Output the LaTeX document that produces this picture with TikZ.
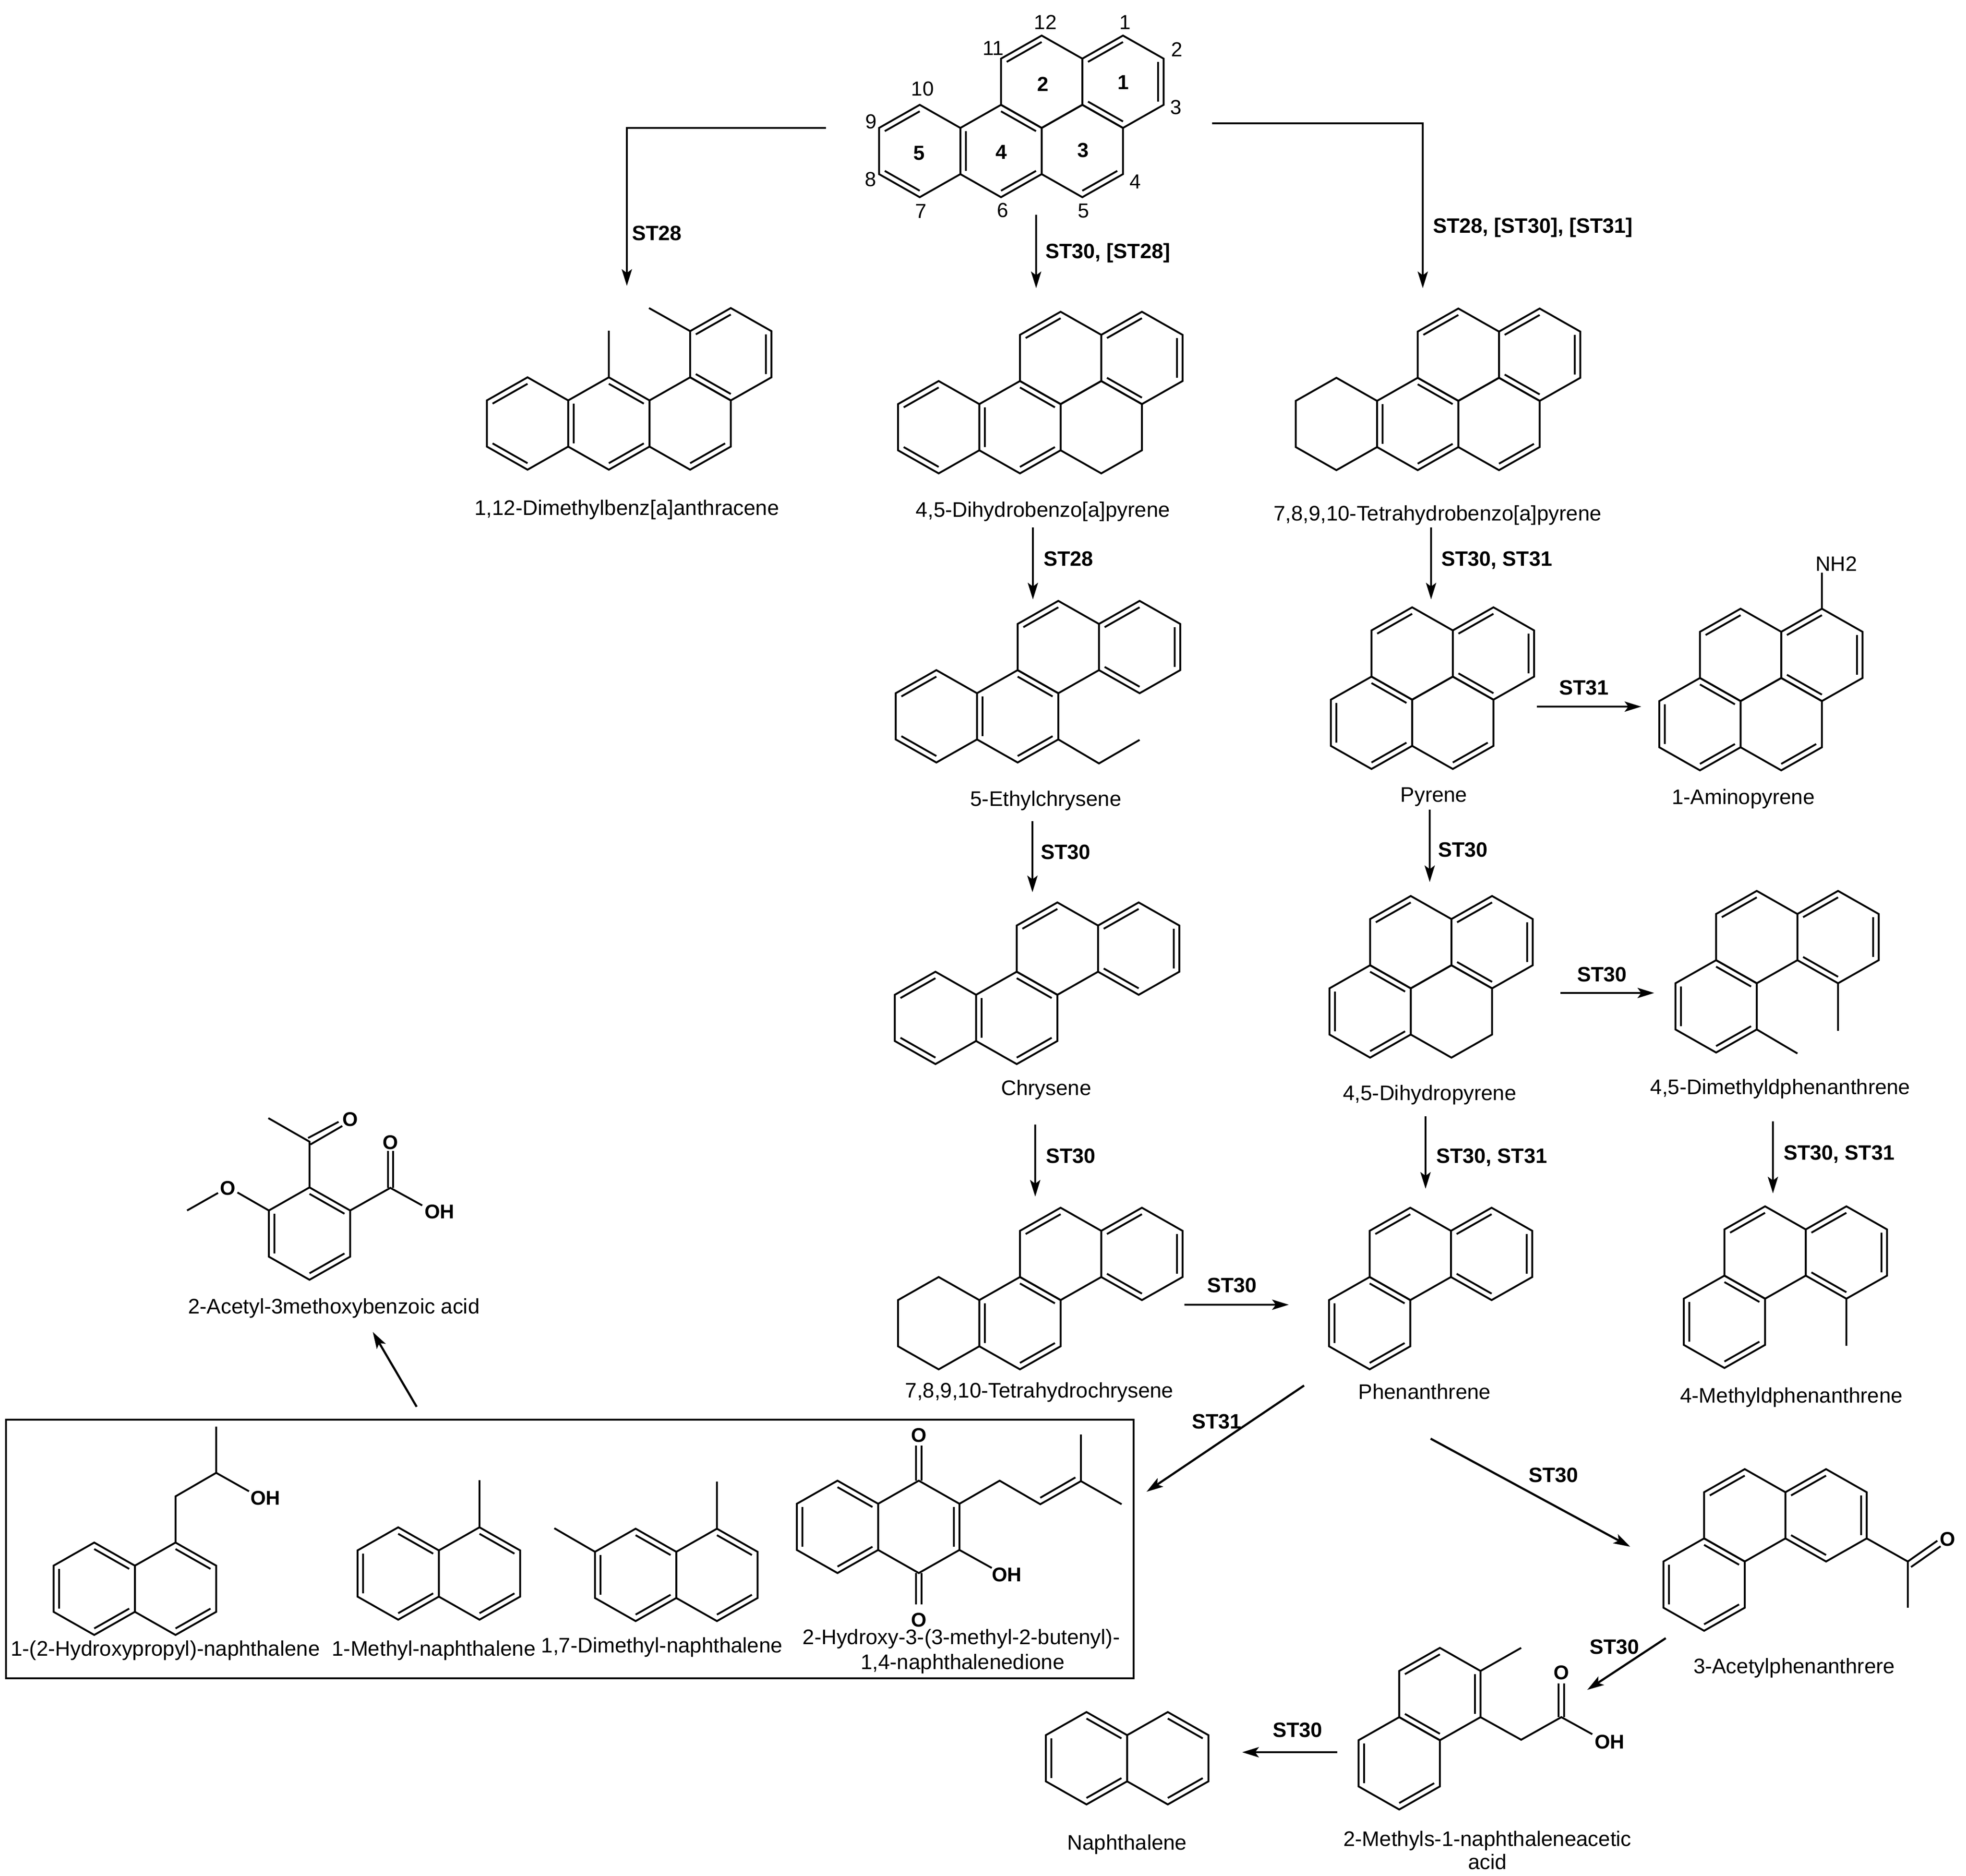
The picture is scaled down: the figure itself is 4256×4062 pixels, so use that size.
\documentclass[tikz,border=0pt]{standalone}
\usepackage{fontspec}
\setmainfont{Liberation Sans}
\usetikzlibrary{arrows.meta}
\tikzset{
  bond/.style={line width=4pt,line join=miter,line cap=butt,black},
  conn/.style={line width=4.6pt,black,-{Stealth[length=36pt,width=22pt,inset=8pt]}},
  namelbl/.style={anchor=base,inner sep=0pt,font=\fontsize{45.6}{54}\selectfont},
  steplbl/.style={anchor=base west,inner sep=0pt,font=\fontsize{45}{52}\selectfont\bfseries},
  atomlbl/.style={inner sep=0pt,font=\fontsize{43}{50}\selectfont\bfseries},
  atombase/.style={anchor=base west,inner sep=0pt,font=\fontsize{43}{50}\selectfont\bfseries},
  numlbl/.style={inner sep=0pt,font=\fontsize{44}{50}\selectfont},
  numbold/.style={inner sep=0pt,font=\fontsize{44}{50}\selectfont\bfseries}
}
\newcommand\hx[3]{%
  \draw[bond] (#1,#2-100)--(#1+88,#2-50)--(#1+88,#2+50)--(#1,#2+100)--(#1-88,#2+50)--(#1-88,#2-50)--cycle;
  \foreach \e in {#3}{%
    \ifcase\e\relax
    \or\draw[bond] (#1,#2-86)--(#1+75.7,#2-43);
    \or\draw[bond] (#1+75.7,#2-43)--(#1+75.7,#2+43);
    \or\draw[bond] (#1+75.7,#2+43)--(#1,#2+86);
    \or\draw[bond] (#1,#2+86)--(#1-75.7,#2+43);
    \or\draw[bond] (#1-75.7,#2+43)--(#1-75.7,#2-43);
    \or\draw[bond] (#1-75.7,#2-43)--(#1,#2-86);
    \fi}%
}
\begin{document}
\begin{tikzpicture}[x=1pt,y=-1pt]
\useasboundingbox (0,0) rectangle (4256,4062);
\fill[white] (0,0) rectangle (4256,4062);

% ---- benzo[a]pyrene (top)
\hx{2431}{177}{2,4,6}\hx{2255}{177}{6}\hx{2343}{327}{3}\hx{2167}{327}{1,3,5}\hx{1991}{327}{4,6}
\node[numlbl] (n12) at (2263,48) {12};
\node[numlbl] (n1) at (2436,48) {1};
\node[numlbl] (n2) at (2548,107) {2};
\node[numlbl] (n3) at (2546,232) {3};
\node[numlbl] (n4) at (2458,393) {4};
\node[numlbl] (n5) at (2346,457) {5};
\node[numlbl] (n6) at (2171,455) {6};
\node[numlbl] (n7) at (1994,457) {7};
\node[numlbl] (n8) at (1885,388) {8};
\node[numlbl] (n9) at (1886,263) {9};
\node[numlbl] (n10) at (1997,192) {10};
\node[numlbl] (n11) at (2150,104) {11};
\node[numbold] (r1) at (2432,178) {1};
\node[numbold] (r2) at (2258,182) {2};
\node[numbold] (r3) at (2345,325) {3};
\node[numbold] (r4) at (2168,329) {4};
\node[numbold] (r5) at (1990,332) {5};

% ---- 1,12-dimethylbenz[a]anthracene
\hx{1582}{767}{2,4,6}\hx{1494}{917}{3}\hx{1318}{917}{1,3,5}\hx{1142}{917}{4,6}
\draw[bond] (1494,717)--(1405,667);
\draw[bond] (1318,817)--(1318,716);
\node[namelbl] (lA) at (1357,1115) {1,12-Dimethylbenz[a]anthracene};

% ---- 4,5-dihydrobenzo[a]pyrene
\hx{2472}{775}{2,4,6}\hx{2296}{775}{6}\hx{2384}{925}{0}\hx{2208}{925}{1,3,5}\hx{2032}{925}{4,6}
\node[namelbl] (lB) at (2258,1119) {4,5-Dihydrobenzo[a]pyrene};

% ---- 7,8,9,10-tetrahydrobenzo[a]pyrene
\hx{3333}{768}{2,4,6}\hx{3157}{768}{6}\hx{3245}{918}{3}\hx{3069}{918}{1,3,5}\hx{2893}{918}{0}
\node[namelbl] (lC) at (3112,1127) {7,8,9,10-Tetrahydrobenzo[a]pyrene};

% ---- 5-ethylchrysene
\hx{2467}{1401}{2,4,6}\hx{2291}{1401}{6}\hx{2203}{1551}{1,3,5}\hx{2027}{1551}{4,6}
\draw[bond] (2291,1601)--(2379,1653)--(2467,1602);
\node[namelbl] (lD) at (2264,1745) {5-Ethylchrysene};

% ---- pyrene
\hx{3233}{1415}{2,4,6}\hx{3057}{1415}{6}\hx{3145}{1565}{3}\hx{2969}{1565}{1,3,5}
\node[namelbl] (lE) at (3104,1736) {Pyrene};

% ---- 1-aminopyrene
\hx{3944}{1418}{2,4,6}\hx{3768}{1418}{6}\hx{3856}{1568}{3}\hx{3680}{1568}{1,3,5}
\draw[bond] (3944,1318)--(3944,1240);
\node[anchor=base west,inner sep=0pt,font=\fontsize{45}{54}\selectfont] (nh2) at (3930,1236) {NH2};
\node[namelbl] (lF) at (3774,1741) {1-Aminopyrene};

% ---- chrysene
\hx{2465}{2054}{2,4,6}\hx{2289}{2054}{6}\hx{2201}{2204}{1,3,5}\hx{2025}{2204}{4,6}
\node[namelbl] (lG) at (2265,2371) {Chrysene};

% ---- 4,5-dihydropyrene
\hx{3230}{2040}{2,4,6}\hx{3054}{2040}{6}\hx{3142}{2190}{0}\hx{2966}{2190}{1,3,5}
\node[namelbl] (lH) at (3095,2382) {4,5-Dihydropyrene};

% ---- 4,5-dimethylphenanthrene
\hx{3979}{2029}{2,4,6}\hx{3803}{2029}{6}\hx{3715}{2179}{1,3,5}
\draw[bond] (3979,2129)--(3979,2232);
\draw[bond] (3803,2229)--(3891,2281);
\node[namelbl] (lI) at (3854,2369) {4,5-Dimethyldphenanthrene};

% ---- 7,8,9,10-tetrahydrochrysene
\hx{2472}{2715}{2,4,6}\hx{2296}{2715}{6}\hx{2208}{2865}{1,3,5}\hx{2032}{2865}{0}
\node[namelbl] (lJ) at (2250,3026) {7,8,9,10-Tetrahydrochrysene};

% ---- phenanthrene
\hx{3229}{2715}{2,4,6}\hx{3053}{2715}{6}\hx{2965}{2865}{1,3,5}
\node[namelbl] (lK) at (3084,3029) {Phenanthrene};

% ---- 4-methylphenanthrene
\hx{3997}{2712}{2,4,6}\hx{3821}{2712}{6}\hx{3733}{2862}{1,3,5}
\draw[bond] (3997,2812)--(3997,2914);
\node[namelbl] (lL) at (3878,3037) {4-Methyldphenanthrene};

% ---- 3-acetylphenanthrene
\hx{3953}{3281}{2,4,6}\hx{3777}{3281}{6}\hx{3689}{3431}{1,3,5}
\draw[bond] (4041,3331)--(4130,3381)--(4130,3481);
\draw[bond] (4130,3381)--(4194,3336);
\draw[bond] (4137,3393)--(4201,3348);
\node[atomlbl] (oA) at (4216,3333) {O};
\node[namelbl] (lM) at (3884,3623) {3-Acetylphenanthrere};

% ---- 2-methyl-1-naphthaleneacetic acid
\hx{3117}{3668}{2,4,6}\hx{3029}{3818}{3,5}
\draw[bond] (3205,3618)--(3293,3568);
\draw[bond] (3205,3718)--(3293,3767)--(3380,3718)--(3447,3755);
\draw[bond] (3374,3718)--(3374,3645);
\draw[bond] (3386,3718)--(3386,3645);
\node[atomlbl] (oB) at (3380,3622) {O};
\node[atombase] (ohB) at (3452,3786) {OH};
\node[namelbl] (lN) at (3220,3997) {2-Methyls-1-naphthaleneacetic};
\node[namelbl] (lN2) at (3220,4047) {acid};

% ---- naphthalene
\hx{2352}{3807}{1,3,5}\hx{2528}{3807}{1,3}
\node[namelbl] (lO) at (2440,4005) {Naphthalene};

% ---- 2-acetyl-3-methoxybenzoic acid
\hx{670}{2671}{1,3,5}
\draw[bond] (670,2571)--(670,2472)--(581,2421);
\draw[bond] (667,2464)--(733,2429);
\draw[bond] (672,2478)--(741,2438);
\node[atomlbl] (oC) at (758,2424) {O};
\draw[bond] (758,2621)--(845,2572)--(914,2610);
\draw[bond] (840,2572)--(840,2492);
\draw[bond] (851,2572)--(851,2492);
\node[atomlbl] (oD) at (845,2474) {O};
\node[atombase] (ohD) at (919,2638) {OH};
\draw[bond] (582,2621)--(514,2582);
\node[atomlbl] (oE) at (493,2573) {O};
\draw[bond] (472,2583)--(405,2621);
\node[namelbl] (lP) at (723,2844) {2-Acetyl-3methoxybenzoic acid};

% ---- boxed group
\draw[line width=4.7pt] (13,3074) rectangle (2454,3634);
\hx{204}{3440}{1,3,5}\hx{380}{3440}{1,3}
\draw[bond] (380,3340)--(380,3240)--(468,3189)--(468,3089);
\draw[bond] (468,3189)--(539,3229);
\node[atombase] (ohE) at (542,3258) {OH};
\node[namelbl] (lQ) at (358,3585) {1-(2-Hydroxypropyl)-naphthalene};
\hx{862}{3407}{1,3,5}\hx{1038}{3407}{1,3}
\draw[bond] (1038,3307)--(1038,3205);
\node[namelbl] (lR) at (939,3585) {1-Methyl-naphthalene};
\hx{1376}{3410}{1,3,5}\hx{1552}{3410}{1,3}
\draw[bond] (1552,3310)--(1552,3208);
\draw[bond] (1288,3360)--(1200,3309);
\node[namelbl] (lS) at (1433,3578) {1,7-Dimethyl-naphthalene};
\hx{1813}{3306}{1,3,5}\hx{1989}{3306}{2}
\draw[bond] (1983,3206)--(1983,3130);
\draw[bond] (1995,3206)--(1995,3130);
\draw[bond] (1983,3406)--(1983,3474);
\draw[bond] (1995,3406)--(1995,3474);
\node[atomlbl] (oF) at (1989,3108) {O};
\node[atomlbl] (oG) at (1989,3508) {O};
\draw[bond] (2077,3256)--(2164,3206)--(2252,3257)--(2340,3207)--(2428,3257);
\draw[bond] (2340,3207)--(2340,3106);
\draw[bond] (2252,3243)--(2328,3199);
\draw[bond] (2077,3356)--(2147,3395);
\node[atombase] (ohF) at (2147,3424) {OH};
\node[namelbl] (lT) at (2081,3560) {2-Hydroxy-3-(3-methyl-2-butenyl)-};
\node[namelbl] (lU) at (2084,3614) {1,4-naphthalenedione};

% ---- connectors
\coordinate (a1s) at (1788,277); \coordinate (a1e) at (1357,619);
\draw[conn] (a1s) -| (a1e);
\coordinate (a2s) at (2243,465); \coordinate (a2e) at (2243,624);
\draw[conn] (a2s) -- (a2e);
\coordinate (a3s) at (2624,267); \coordinate (a3e) at (3080,624);
\draw[conn] (a3s) -| (a3e);
\coordinate (a4s) at (2236,1142); \coordinate (a4e) at (2236,1298);
\draw[conn] (a4s) -- (a4e);
\coordinate (a5s) at (3098,1142); \coordinate (a5e) at (3098,1298);
\draw[conn] (a5s) -- (a5e);
\coordinate (a6s) at (3327,1530); \coordinate (a6e) at (3553,1530);
\draw[conn] (a6s) -- (a6e);
\coordinate (a7s) at (2235,1778); \coordinate (a7e) at (2235,1932);
\draw[conn] (a7s) -- (a7e);
\coordinate (a8s) at (3095,1753); \coordinate (a8e) at (3095,1910);
\draw[conn] (a8s) -- (a8e);
\coordinate (a9s) at (3378,2150); \coordinate (a9e) at (3581,2150);
\draw[conn] (a9s) -- (a9e);
\coordinate (a10s) at (2241,2435); \coordinate (a10e) at (2241,2591);
\draw[conn] (a10s) -- (a10e);
\coordinate (a11s) at (3086,2417); \coordinate (a11e) at (3086,2574);
\draw[conn] (a11s) -- (a11e);
\coordinate (a12s) at (3838,2428); \coordinate (a12e) at (3838,2584);
\draw[conn] (a12s) -- (a12e);
\coordinate (a13s) at (2564,2825); \coordinate (a13e) at (2790,2825);
\draw[conn] (a13s) -- (a13e);
\coordinate (a14s) at (2823,3000); \coordinate (a14e) at (2482,3230);
\draw[conn] (a14s) -- (a14e);
\coordinate (a15s) at (3097,3115); \coordinate (a15e) at (3529,3349);
\draw[conn] (a15s) -- (a15e);
\coordinate (a16s) at (3606,3547); \coordinate (a16e) at (3436,3659);
\draw[conn] (a16s) -- (a16e);
\coordinate (a17s) at (2895,3794); \coordinate (a17e) at (2689,3794);
\draw[conn] (a17s) -- (a17e);
\coordinate (a18s) at (902,3046); \coordinate (a18e) at (807,2884);
\draw[conn] (a18s) -- (a18e);

% ---- step labels
\node[steplbl] (s1) at (1368,520) {ST28};
\node[steplbl] (s2) at (2263,559) {ST30, [ST28]};
\node[steplbl] (s3) at (3102,504) {ST28, [ST30], [ST31]};
\node[steplbl] (s4) at (2259,1225) {ST28};
\node[steplbl] (s5) at (3120,1225) {ST30, ST31};
\node[steplbl] (s6) at (3375,1504) {ST31};
\node[steplbl] (s7) at (2253,1860) {ST30};
\node[steplbl] (s8) at (3113,1855) {ST30};
\node[steplbl] (s9) at (3414,2125) {ST30};
\node[steplbl] (s10) at (2264,2518) {ST30};
\node[steplbl] (s11) at (3109,2518) {ST30, ST31};
\node[steplbl] (s12) at (3861,2511) {ST30, ST31};
\node[steplbl] (s13) at (2613,2798) {ST30};
\node[steplbl] (s14) at (2580,3093) {ST31};
\node[steplbl] (s15) at (3309,3209) {ST30};
\node[steplbl] (s16) at (3441,3581) {ST30};
\node[steplbl] (s17) at (2755,3761) {ST30};
\end{tikzpicture}
\end{document}
